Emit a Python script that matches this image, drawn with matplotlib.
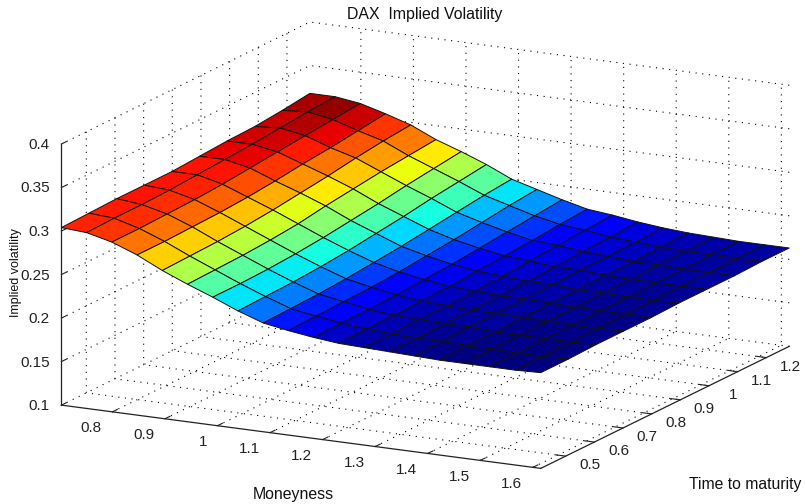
import matplotlib
matplotlib.use("Agg")
import numpy as np
import matplotlib.pyplot as plt
from matplotlib.colors import Normalize

plt.rcParams['font.family'] = ['Liberation Sans', 'DejaVu Sans']

# moneyness grid (20 points) and time to maturity grid (10 points)
moneyness = [0.703, 0.751, 0.799, 0.847, 0.895, 0.943, 0.991, 1.039, 1.087, 1.135,
             1.183, 1.231, 1.279, 1.327, 1.375, 1.423, 1.471, 1.519, 1.567, 1.615]
maturity = [0.413, 0.509, 0.606, 0.702, 0.799, 0.895, 0.991, 1.088, 1.184, 1.28]

# implied vol, one row per moneyness value
iv = [
    [.304, .305, .306, .306, .306, .308, .310, .311, .314, .318],
    [.302, .303, .303, .304, .306, .308, .310, .313, .316, .318],
    [.295, .295, .296, .297, .299, .302, .305, .308, .311, .314],
    [.284, .284, .285, .286, .288, .291, .295, .298, .302, .306],
    [.270, .271, .272, .274, .277, .281, .285, .290, .294, .297],
    [.258, .259, .260, .262, .265, .270, .274, .278, .281, .284],
    [.247, .247, .248, .250, .253, .257, .261, .266, .270, .274],
    [.235, .236, .237, .239, .242, .246, .250, .255, .259, .263],
    [.225, .226, .227, .229, .232, .235, .239, .243, .247, .250],
    [.220, .221, .222, .223, .225, .228, .231, .235, .239, .242],
    [.216, .217, .217, .218, .220, .222, .225, .228, .231, .234],
    [.213, .214, .214, .215, .216, .218, .220, .222, .225, .227],
    [.212, .212, .213, .213, .214, .216, .218, .220, .222, .224],
    [.211, .211, .212, .212, .213, .214, .215, .217, .218, .220],
    [.210, .211, .212, .212, .213, .214, .215, .215, .216, .217],
    [.209, .210, .210, .211, .212, .212, .213, .213, .214, .215],
    [.209, .210, .210, .211, .211, .212, .212, .213, .213, .214],
    [.209, .209, .210, .210, .211, .211, .212, .212, .213, .213],
    [.209, .209, .210, .210, .211, .211, .212, .212, .212, .213],
    [.210, .210, .211, .211, .211, .212, .212, .212, .213, .213],
]

x_ticks = [0.8, 0.9, 1, 1.1, 1.2, 1.3, 1.4, 1.5, 1.6]
y_ticks = [0.5, 0.6, 0.7, 0.8, 0.9, 1, 1.1, 1.2]
z_ticks = [0.1, 0.15, 0.2, 0.25, 0.3, 0.35, 0.4]

fig = plt.figure(figsize=(8.05, 5.04), dpi=100)
ax = fig.add_axes([16 / 805, 0 / 504, 1, 1], projection='3d', proj_type='ortho')
ax.view_init(elev=14.75, azim=-62.6)
ax.set_box_aspect((1, 1, 0.5), zoom=1.56)
ax.patch.set_alpha(0)

M, T = np.meshgrid(moneyness, maturity, indexing='ij')
Z = np.array(iv)
# flat shading: each cell takes the colour of its first corner
cell_colors = plt.cm.jet(Normalize(0.209, 0.318)(Z))
surf = ax.plot_surface(M, T, Z, rstride=1, cstride=1, facecolors=cell_colors,
                       linewidth=0.7, shade=False, antialiased=True)
surf.set_edgecolor('#111111')
surf.set_clip_on(False)

ax.set_xlim(0.703, 1.615, view_margin=0)
ax.set_ylim(0.413, 1.28, view_margin=0)
ax.set_zlim(0.1, 0.4, view_margin=0)
ax.set_xticks(x_ticks)
ax.set_yticks(y_ticks)
ax.set_zticks(z_ticks)
ax.set_xticklabels(['0.8', '0.9', '1', '1.1', '1.2', '1.3', '1.4', '1.5', '1.6'], ha='right', va='center')
ax.set_yticklabels(['0.5', '0.6', '0.7', '0.8', '0.9', '1', '1.1', '1.2'], ha='center', va='bottom')
ax.set_zticklabels(['0.1', '0.15', '0.2', '0.25', '0.3', '0.35', '0.4'], ha='right', va='center')
ax.tick_params(labelsize=11, colors='#222222')
ax.xaxis.set_tick_params(pad=0)
ax.yaxis.set_tick_params(pad=1.5)
ax.zaxis.set_tick_params(pad=-5)
ax.zaxis.set_ticks_position('lower')

for axis in (ax.xaxis, ax.yaxis, ax.zaxis):
    axis.pane.set_facecolor('none')
    axis.pane.set_edgecolor('none')
    axis._axinfo['grid'].update(color='k', linewidth=0.8, linestyle=(0, (1, 5)))
    axis._axinfo['tick'].update(inward_factor=0, outward_factor=0.25)
    axis.line.set_color('#222222')
    axis.line.set_linewidth(0.9)

# a 3d axis label cannot be placed freely, so these go on the figure
fig.text(293 / 805, 1 - 495 / 504, 'Moneyness', fontsize=11.4, ha='center', va='center', color='#111111')
fig.text(745 / 805, 1 - 484 / 504, 'Time to maturity', fontsize=11.3, ha='center', va='center', color='#111111')
fig.text(16 / 805, 1 - 273 / 504, 'Implied volatility', fontsize=9, rotation=90, ha='center', va='center', color='#111111')
fig.text(425 / 805, 1 - 15 / 504, 'DAX  Implied Volatility', fontsize=11.4, ha='center', va='center', color='#111111')

fig.savefig('out.png', dpi=100)
